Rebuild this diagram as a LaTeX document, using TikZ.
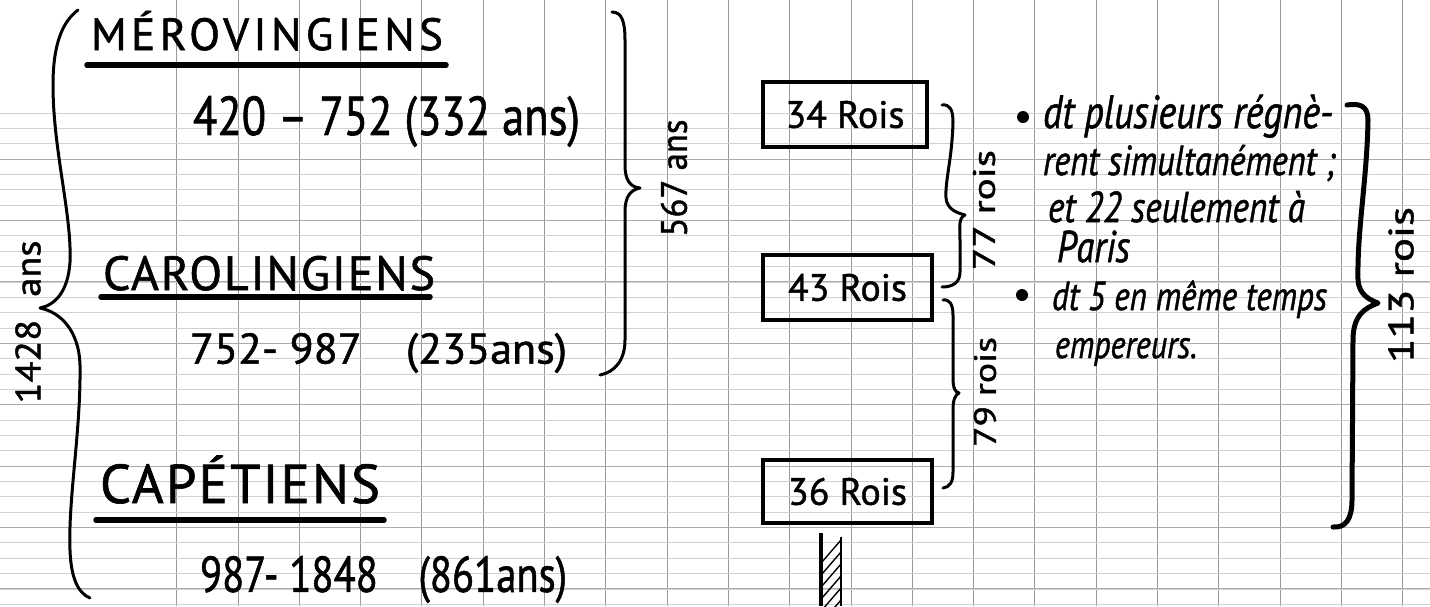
\documentclass[tikz,border=0pt]{standalone}
\usepackage{fontspec}
\usepackage{graphicx}
\setmainfont{PT Sans}[FakeBold=1.2]
\newfontfamily\wcaps{PT Sans}[LetterSpace=10,FakeBold=1.2]
\newfontfamily\ncaps{PT Sans}[LetterSpace=4,FakeBold=1.2]
\newcommand\nt[2]{\scalebox{1}[1.22]{\resizebox{#1}{!}{#2}}}
\begin{document}
\begin{tikzpicture}[x=1pt,y=-1pt,
  gridv/.style={draw=black!40, line width=0.9pt},
  gridh/.style={draw=black!18, line width=0.7pt},
  gridhb/.style={draw=black!33, line width=0.9pt},
  pen/.style={line width=3pt, line cap=round, line join=round},
  thickpen/.style={line width=5pt, line cap=round, line join=round},
  underl/.style={line width=5.5pt, line cap=round},
  lbl/.style={inner sep=0pt, outer sep=0pt},
  roisbox/.style={draw, line width=3.5pt, inner sep=0pt, font=\fontsize{38}{40}\selectfont},
  note/.style={inner sep=0pt, outer sep=0pt, anchor=base west, font=\itshape},
  bul/.style={circle, fill, inner sep=0pt, minimum size=12pt}]
\useasboundingbox (0,0) rectangle (1430,606);
\fill[white] (0,0) rectangle (1430,606);
% grid
\foreach \k in {0,...,20} {\pgfmathsetmacro\xx{176.7+61.3*\k}
  \draw[gridv] (\xx,0) -- (\xx,606);}
\foreach \k in {0,...,32} {\pgfmathsetmacro\yy{113+15.35*\k}
  \draw[gridh] (0,\yy) -- (1430,\yy);}
\foreach \k in {3,7,...,31} {\pgfmathsetmacro\yy{113+15.35*\k}
  \draw[gridhb] (0,\yy) -- (1430,\yy);}

% titles and dates
\node[lbl, anchor=base west] (merov) at (91,50) {\resizebox{352pt}{!}{\wcaps MÉROVINGIENS}};
\draw[underl] (87,65) -- (446,65);
\node[lbl, anchor=north west] (d1) at (193,96) {\resizebox*{387pt}{51pt}{420 – 752 (332 ans)}};
\node[lbl, anchor=base west] (carol) at (103,290) {\resizebox{332pt}{!}{\ncaps CAROLINGIENS}};
\draw[underl] (101,297) -- (430,297);
\node[lbl, anchor=north west] (d2) at (190,333) {\resizebox*{377pt}{40pt}{752- 987\quad(235ans)}};
\node[lbl, anchor=base west] (capet) at (100,503) {\resizebox{280pt}{!}{\ncaps CAPÉTIENS}};
\draw[underl] (96,520) -- (384,520);
\node[lbl, anchor=north west] (d3) at (200,556) {\resizebox*{367pt}{47pt}{987- 1848\quad(861ans)}};

% left big brace
\draw[pen] (78,10) .. controls (62,22) and (53,45) .. (53,85) .. controls (53,150) and (72,215) .. (70,262) .. controls (68,292) and (55,305) .. (40,308) .. controls (60,312) and (79,330) .. (80,365) .. controls (81,430) and (68,500) .. (70,550) .. controls (71,578) and (78,593) .. (90,598);
\node[lbl, rotate=90] (a1428) at (28,322) {\resizebox{163pt}{25pt}{1428\hspace{0.6em}ans}};

% brace 567
\draw[pen] (612,12) .. controls (622,12) and (625,22) .. (625,40) -- (625,165) .. controls (625,180) and (630,187) .. (640,188) .. controls (630,190) and (625,197) .. (625,212) -- (625,340) .. controls (625,360) and (615,372) .. (600,375);
\node[lbl, rotate=90] (a567) at (674,178) {\resizebox{117pt}{26pt}{567 ans}};

% boxes
\node[roisbox, minimum width=164pt, minimum height=65pt] (k34) at (845,114.5) {34 Rois};
\node[roisbox, minimum width=169pt, minimum height=65pt] (k43) at (847.5,287.5) {43 Rois};
\node[roisbox, minimum width=169pt, minimum height=63pt] (k36) at (847.5,491.5) {36 Rois};

% hatched bar
\draw[line width=3.5pt] (821,533) -- (821,606);
\draw[line width=2pt] (841,537) -- (841,606);
\begin{scope}
  \clip (823,540) rectangle (840,606);
  \foreach \t in {0,...,6} \draw[line width=1.4pt] (822,{562+12*\t}) -- (841,{540+12*\t});
\end{scope}

% brace 77
\draw[pen] (942,105) .. controls (950,104) and (953,110) .. (953,122) .. controls (952,160) and (945,180) .. (946,198) .. controls (947,210) and (958,213) .. (965,215) .. controls (958,218) and (960,228) .. (960,240) -- (960,272) .. controls (960,283) and (952,287) .. (942,287);
\node[lbl, rotate=90] (r77) at (984,210) {\resizebox{120pt}{22pt}{77 rois}};

% brace 79
\draw[pen] (943,300) .. controls (950,299) and (953,305) .. (953,315) -- (953,378) .. controls (953,388) and (955,392) .. (959,393) .. controls (955,395) and (953,400) .. (953,410) -- (953,472) .. controls (953,482) and (950,487) .. (943,488);
\node[lbl, rotate=90] (r79) at (985,392) {\resizebox{110pt}{22pt}{79 rois}};

% notes
\node[bul] (b1) at (1023,117) {};
\node[note] (n1) at (1043,128) {\nt{290pt}{dt plusieurs régnè-}};
\node[note] (n2) at (1043,175) {\nt{292pt}{rent simultanément ;}};
\node[note] (n3) at (1048,222) {\nt{257pt}{et 22 seulement à}};
\node[note] (n4) at (1057,262) {\nt{73pt}{Paris}};
\node[bul] (b2) at (1022,295) {};
\node[note] (n5) at (1052,310) {\nt{275pt}{dt 5 en même temps}};
\node[note] (n6) at (1055,358) {\nt{142pt}{empereurs.}};

% brace 113
\draw[thickpen] (1347,105) .. controls (1360,103) and (1368,106) .. (1368,120) .. controls (1367,180) and (1357,230) .. (1358,280) .. controls (1359,295) and (1370,300) .. (1378,303) .. controls (1365,308) and (1353,315) .. (1353,340) -- (1352,500) .. controls (1352,520) and (1345,528) .. (1333,527);
\node[lbl, rotate=90] (r113) at (1401,285) {\resizebox{156pt}{25pt}{113 rois}};
\end{tikzpicture}
\end{document}
